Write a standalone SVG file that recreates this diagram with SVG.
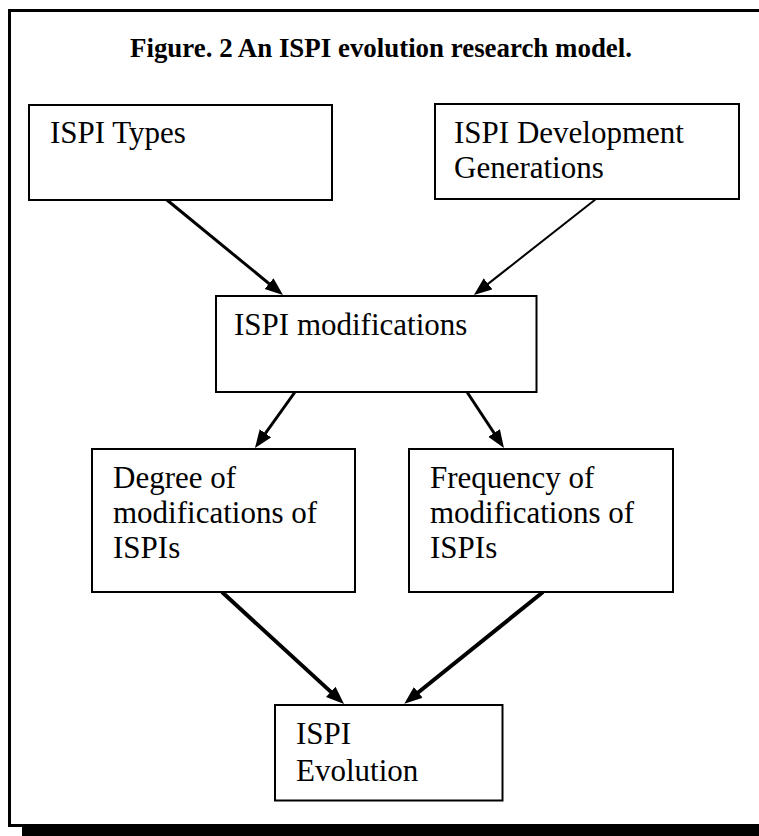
<svg xmlns="http://www.w3.org/2000/svg" width="759" height="836" viewBox="0 0 759 836">
<style>
.box{fill:#fff;stroke:#000;stroke-width:2}
.t{font-family:"Liberation Serif","Times New Roman",serif;font-size:31px;fill:#000}
.title{font-family:"Liberation Serif","Times New Roman",serif;font-size:26.9px;font-weight:bold;fill:#000}
.c{stroke:#000;fill:none;stroke-linecap:butt}
</style>
<defs>
<marker id="ah" markerUnits="userSpaceOnUse" markerWidth="20" markerHeight="16" refX="9" refY="7" orient="auto">
<path d="M0,0 L18,7 L0,14 z" fill="#000"/>
</marker>
</defs>
<rect x="0" y="0" width="759" height="836" fill="#fff"/>
<g id="frame">
<rect x="22" y="826" width="760" height="14" fill="#000"/>
<rect x="9.5" y="10.5" width="770" height="815" fill="none" stroke="#000" stroke-width="3"/>
<text class="title" x="130" y="57">Figure. 2 An ISPI evolution research model.</text>
</g>
<g id="connectors">
<line class="c" x1="167" y1="200" x2="276" y2="289.3" stroke-width="3" marker-end="url(#ah)"/>
<line class="c" x1="596" y1="199" x2="481" y2="289.4" stroke-width="2" marker-end="url(#ah)"/>
<line class="c" x1="295" y1="392" x2="260.2" y2="440.7" stroke-width="3" marker-end="url(#ah)"/>
<line class="c" x1="467" y1="392" x2="499" y2="440.5" stroke-width="3" marker-end="url(#ah)"/>
<line class="c" x1="222" y1="592" x2="337.4" y2="697.9" stroke-width="4" marker-end="url(#ah)"/>
<line class="c" x1="543" y1="592" x2="411.3" y2="698" stroke-width="4" marker-end="url(#ah)"/>
</g>
<g id="types">
<rect class="box" x="29" y="105" width="303" height="95"/>
<text class="t" x="50" y="143">ISPI Types</text>
</g>
<g id="generations">
<rect class="box" x="435" y="104" width="304" height="95"/>
<text class="t" x="454" y="143">ISPI Development</text>
<text class="t" x="454" y="178">Generations</text>
</g>
<g id="modifications">
<rect class="box" x="216" y="296" width="320.5" height="96"/>
<text class="t" x="234" y="335">ISPI modifications</text>
</g>
<g id="degree">
<rect class="box" x="92" y="449" width="263" height="143"/>
<text class="t" x="113" y="488">Degree of</text>
<text class="t" x="113" y="523">modifications of</text>
<text class="t" x="113" y="558">ISPIs</text>
</g>
<g id="frequency">
<rect class="box" x="409" y="449" width="264" height="143"/>
<text class="t" x="430" y="488">Frequency of</text>
<text class="t" x="430" y="523">modifications of</text>
<text class="t" x="430" y="558">ISPIs</text>
</g>
<g id="evolution">
<rect class="box" x="275" y="705" width="227.5" height="95.5"/>
<text class="t" x="296" y="744">ISPI</text>
<text class="t" x="296" y="781">Evolution</text>
</g>
</svg>
